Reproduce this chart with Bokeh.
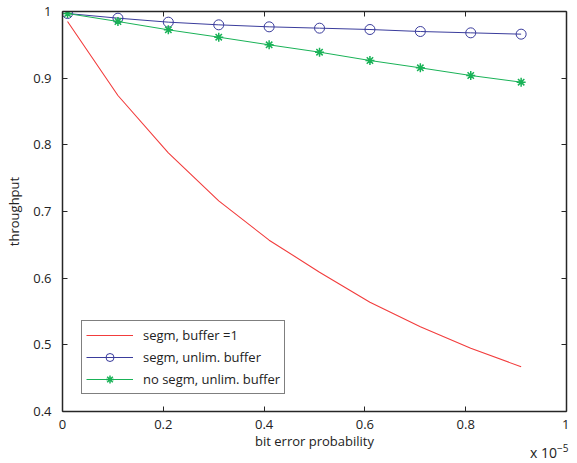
from bokeh.plotting import figure
from bokeh.layouts import column
from bokeh.models import (LinearAxis, FixedTicker, CustomJSTickFormatter, Div,
                          Legend, LegendItem, Range1d)
from bokeh.embed import file_html
from bokeh.resources import INLINE

# ---- data (bit error probability in units of 1e-5) ----
ber = [0.01, 0.11, 0.21, 0.31, 0.41, 0.51, 0.61, 0.71, 0.81, 0.91]
segm_buf1 = [0.985, 0.874, 0.788, 0.716, 0.657, 0.609, 0.564, 0.527, 0.495, 0.467]
segm_unlim = [0.997, 0.990, 0.984, 0.980, 0.977, 0.975, 0.973, 0.970, 0.968, 0.966]
nosegm_unlim = [0.997, 0.985, 0.9725, 0.9615, 0.950, 0.939, 0.9265, 0.9155, 0.904, 0.894]

x_ticks = [0, 0.2, 0.4, 0.6, 0.8, 1.0]
y_ticks = [0.4, 0.5, 0.6, 0.7, 0.8, 0.9, 1.0]

FONT = "Open Sans"
AX = "#262626"
TXT = "#222222"
RED = "#f23c3c"
BLUE = "#3a3c9c"
GREEN = "#19b257"

p = figure(width=569, height=455, output_backend="svg", toolbar_location=None,
           x_range=Range1d(0, 1), y_range=Range1d(0.4, 1.0),
           min_border_left=62, min_border_right=3, min_border_top=11,
           min_border_bottom=44, x_axis_location=None, y_axis_location=None)
p.outline_line_color = None
p.xgrid.visible = False
p.ygrid.visible = False
p.background_fill_color = "white"
p.border_fill_alpha = 0

fmt = CustomJSTickFormatter(code="return tick.toFixed(1).replace(/\\.0$/, '');")
blank = CustomJSTickFormatter(code="return '';")


def style_axis(ax, ticks, labels=True):
    ax.ticker = FixedTicker(ticks=ticks)
    ax.formatter = fmt if labels else blank
    ax.axis_line_color = AX
    ax.axis_line_width = 1.5
    ax.major_tick_in = 5
    ax.major_tick_out = 0
    ax.major_tick_line_color = AX
    ax.minor_tick_line_color = None
    ax.major_label_text_font = FONT
    ax.major_label_text_font_size = "13px"
    ax.major_label_text_color = TXT
    ax.axis_label_text_font = FONT
    ax.axis_label_text_font_size = "13px"
    ax.axis_label_text_font_style = "normal"
    ax.axis_label_text_color = TXT
    if not labels:
        ax.major_label_standoff = 0


xb = LinearAxis(axis_label="bit error probability")
style_axis(xb, x_ticks)
xb.major_label_standoff = 8
xb.axis_label_standoff = 0
p.add_layout(xb, "below")

yl = LinearAxis(axis_label="throughput")
style_axis(yl, y_ticks)
yl.major_label_standoff = 11
yl.axis_label_standoff = 7
p.add_layout(yl, "left")

xt = LinearAxis()
style_axis(xt, x_ticks, labels=False)
p.add_layout(xt, "above")

yr = LinearAxis()
style_axis(yr, y_ticks, labels=False)
p.add_layout(yr, "right")

# ---- series ----
r1 = p.line(ber, segm_buf1, line_color=RED, line_width=1.1)
r2l = p.line(ber, segm_unlim, line_color=BLUE, line_width=1)
r2m = p.scatter(ber, segm_unlim, marker="circle", size=10, fill_color=None,
                line_color=BLUE, line_width=1)
r3l = p.line(ber, nosegm_unlim, line_color=GREEN, line_width=1)
r3m = p.scatter(ber, nosegm_unlim, marker="asterisk", size=9,
                line_color=GREEN, line_width=1.5)

legend = Legend(items=[
    LegendItem(label="segm, buffer =1", renderers=[r1]),
    LegendItem(label="segm, unlim. buffer", renderers=[r2l, r2m]),
    LegendItem(label="no segm, unlim. buffer", renderers=[r3l, r3m]),
], location=(19, 17))
legend.margin = 0
legend.padding = 4
legend.spacing = 2
legend.glyph_width = 47
legend.glyph_height = 20
legend.label_height = 20
legend.label_standoff = 10
legend.label_text_font = FONT
legend.label_text_font_size = "13px"
legend.label_text_color = TXT
legend.border_line_color = "black"
legend.border_line_width = 1
legend.background_fill_color = "white"
legend.background_fill_alpha = 1
p.add_layout(legend, "center")

# ---- exponent label (x 10^-5), overlaid under the right end of the x axis ----
exp_div = Div(text="x 10<sup style='font-size:10px'>&minus;5</sup>",
              width=44, height=20, margin=(-17, 0, 0, 530),
              styles={"font-family": FONT, "font-size": "14px", "color": TXT,
                      "line-height": "20px", "white-space": "nowrap"})

layout = column(p, exp_div, spacing=0)

open("out.html", "w").write(file_html(layout, INLINE))
